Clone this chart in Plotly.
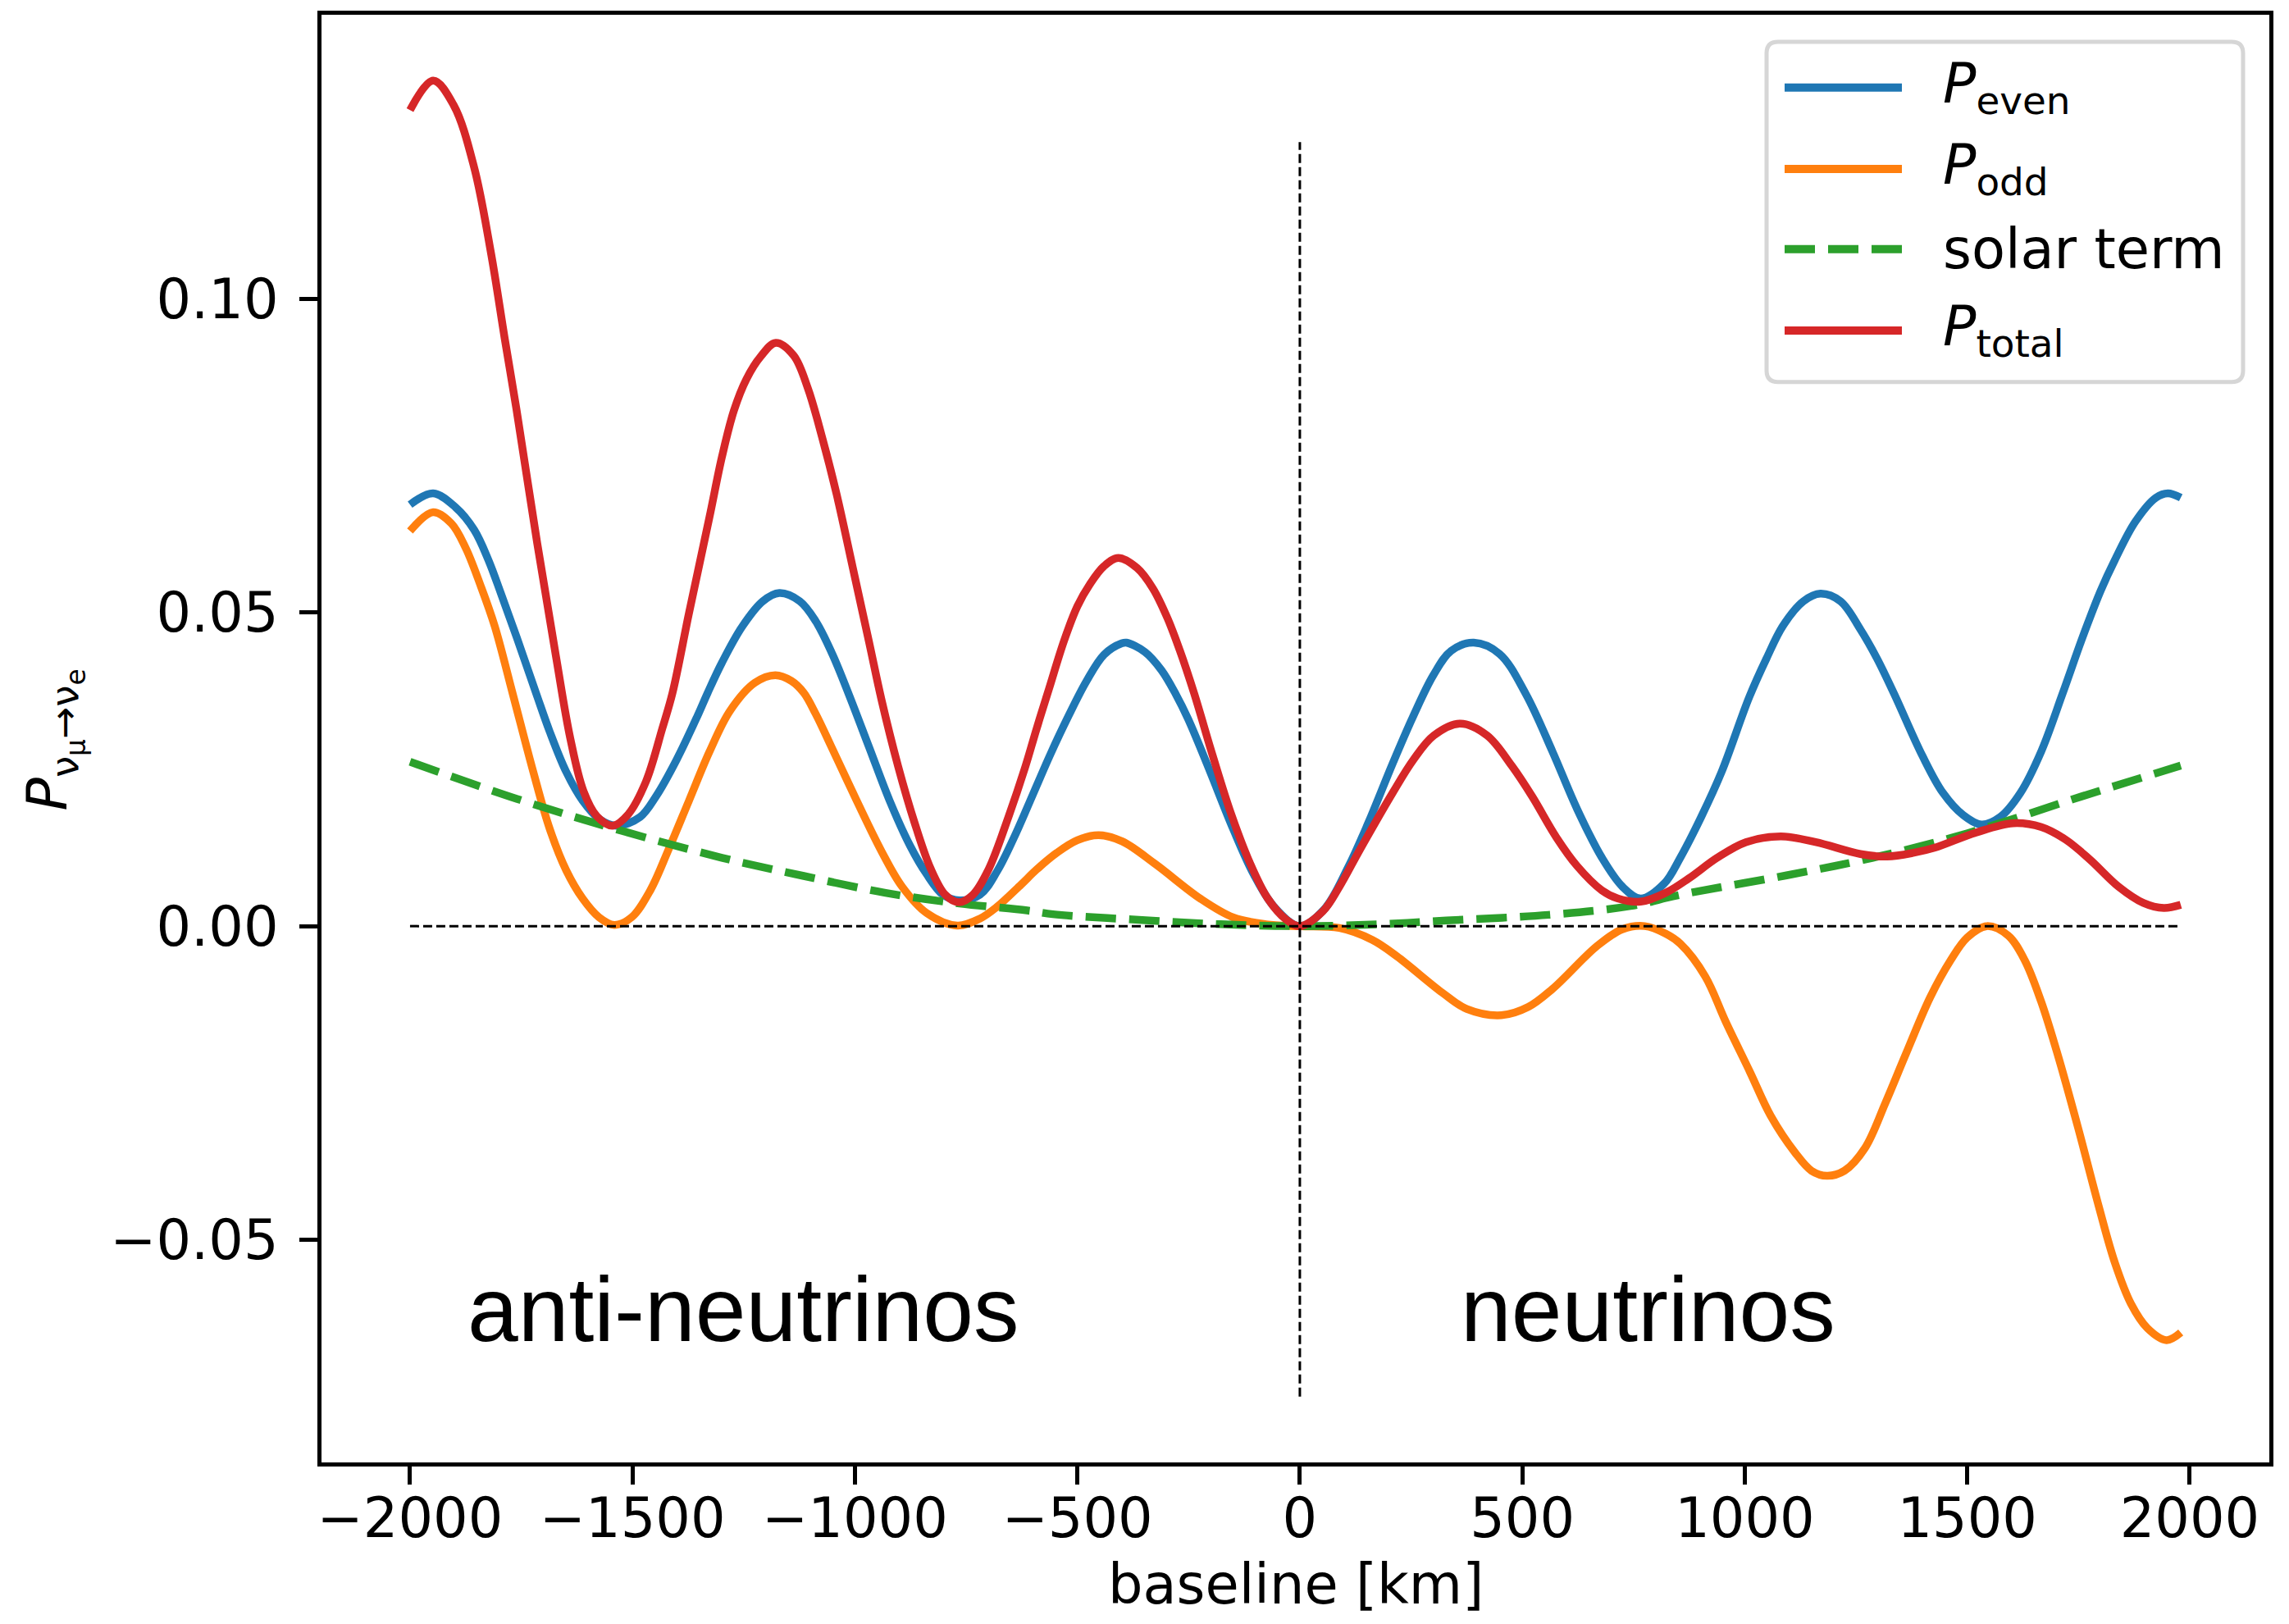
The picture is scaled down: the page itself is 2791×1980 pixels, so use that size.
import plotly.graph_objects as go

# ---------------- data ----------------
even_x = [-2000, -1948, -1898, -1856, -1824, -1796, -1760, -1716, -1686, -1649, -1612, -1575, -1536,
          -1483, -1447, -1401, -1354, -1331, -1299, -1253, -1207, -1170, -1124, -1088, -1051, -1014,
          -968, -922, -876, -839, -802, -765, -719, -680, -640, -600, -560, -520, -480, -440, -400,
          -390, -348, -311, -279, -251, -205, -150, -104, -58, 0,
          55, 108, 154, 209, 255, 300, 340, 391, 449, 508, 568, 623, 679, 725, 766, 819, 855, 902,
          948, 1010, 1049, 1086, 1132, 1170, 1215, 1260, 1297, 1336, 1399, 1445, 1491, 1532, 1574,
          1620, 1666, 1714, 1760, 1800, 1832, 1878, 1924, 1951, 1980]
even_y = [0.0672, 0.0690, 0.0668, 0.0632, 0.0584, 0.0531, 0.0460, 0.0370, 0.0310, 0.0246, 0.0200,
          0.0171, 0.0160, 0.0174, 0.0207, 0.0265, 0.0335, 0.0372, 0.0420, 0.0478, 0.0518, 0.0531,
          0.0518, 0.0486, 0.0434, 0.0370, 0.0285, 0.0200, 0.0128, 0.0083, 0.0050, 0.0041, 0.0050,
          0.0088, 0.0145, 0.0210, 0.0275, 0.0335, 0.0390, 0.0433, 0.0451, 0.0452, 0.0437, 0.0408,
          0.0370, 0.0330, 0.0252, 0.0155, 0.0083, 0.0031, 0.0,
          0.0027, 0.0093, 0.0165, 0.0260, 0.0335, 0.0400, 0.0439, 0.0452, 0.0434, 0.0370, 0.0278,
          0.0187, 0.0109, 0.0063, 0.0044, 0.0068, 0.0109, 0.0174, 0.0246, 0.0365, 0.0427, 0.0479,
          0.0518, 0.0530, 0.0518, 0.0473, 0.0427, 0.0370, 0.0272, 0.0213, 0.0177, 0.0162, 0.0174,
          0.0213, 0.0278, 0.0370, 0.0462, 0.0535, 0.0584, 0.0645, 0.0683, 0.0690, 0.0683]

odd_x = [-2000, -1948, -1907, -1875, -1842, -1810, -1769, -1723, -1686, -1649, -1612, -1575, -1541,
         -1502, -1460, -1419, -1373, -1327, -1281, -1225, -1179, -1143, -1115, -1088, -1051, -996,
         -940, -894, -839, -770, -719, -682, -627, -592, -546, -500, -452, -399, -325, -224, -150,
         -76, 0,
         89, 163, 218, 320, 375, 453, 513, 568, 669, 725, 775, 822, 855, 911, 957, 1012, 1058, 1113,
         1150, 1185, 1224, 1270, 1316, 1362, 1417, 1463, 1500, 1544, 1592, 1629, 1666, 1703, 1749,
         1795, 1832, 1868, 1905, 1948, 1980]
odd_y = [0.0630, 0.0660, 0.0642, 0.0603, 0.0544, 0.0479, 0.0370, 0.0246, 0.0155, 0.0089, 0.0044,
         0.0014, 0.0002, 0.0014, 0.0057, 0.0122, 0.0200, 0.0278, 0.0343, 0.0388, 0.0400, 0.0391,
         0.0372, 0.0338, 0.0283, 0.0200, 0.0119, 0.0063, 0.0021, 0.0001, 0.0012, 0.0030, 0.0066,
         0.0090, 0.0117, 0.0137, 0.0145, 0.0135, 0.0099, 0.0044, 0.0014, 0.0003, 0.0,
         -0.0003, -0.0022, -0.0048, -0.0106, -0.0132, -0.0142, -0.0129, -0.0100, -0.0031, -0.0005,
         0.0, -0.0012, -0.0028, -0.0080, -0.0152, -0.0233, -0.0302, -0.0361, -0.0390, -0.0398,
         -0.0390, -0.0354, -0.0282, -0.0204, -0.0113, -0.0054, -0.0018, 0.0, -0.0015, -0.0054,
         -0.0120, -0.0204, -0.0321, -0.0445, -0.0537, -0.0602, -0.0641, -0.0660, -0.0648]

solar_x = [-2000, -1760, -1539, -1299, -1115, -931, -765, -613, -555, -362, -178, 0,
           178, 329, 559, 743, 855, 1094, 1288, 1500, 1758, 1980]
solar_y = [0.0262, 0.0203, 0.0155, 0.0109, 0.0080, 0.0053, 0.0036, 0.0025, 0.0019, 0.0010, 0.0003,
           0.0, 0.0003, 0.0009, 0.0018, 0.0032, 0.0050, 0.0081, 0.0109, 0.0148, 0.0207, 0.0256]

total_x = [-2000, -1948, -1902, -1856, -1818, -1787, -1761, -1714, -1672, -1640, -1610, -1580,
           -1545, -1510, -1470, -1433, -1410, -1373, -1327, -1299, -1272, -1244, -1212, -1178,
           -1138, -1106, -1074, -1041, -1005, -968, -940, -903, -866, -830, -797, -767, -735, -700,
           -655, -618, -592, -564, -530, -500, -472, -440, -408, -366, -330, -297, -270, -238,
           -196, -155, -113, -72, -30, 0,
           52, 89, 135, 209, 255, 301, 361, 421, 476, 522, 577, 623, 679, 715, 766, 822, 874, 938,
           1003, 1081, 1159, 1260, 1320, 1380, 1427, 1519, 1603, 1666, 1721, 1776, 1840, 1896,
           1942, 1980]
total_y = [0.1301, 0.1348, 0.1309, 0.1210, 0.1073, 0.0936, 0.0825, 0.0610, 0.0430, 0.0300, 0.0215,
           0.0175, 0.0160, 0.0178, 0.0230, 0.0315, 0.0372, 0.0499, 0.0652, 0.0748, 0.0822, 0.0872,
           0.0908, 0.0930, 0.0910, 0.0858, 0.0780, 0.0688, 0.0572, 0.0452, 0.0360, 0.0255, 0.0165,
           0.0092, 0.0050, 0.0038, 0.0050, 0.0090, 0.0174, 0.0252, 0.0314, 0.0378, 0.0455, 0.0510,
           0.0545, 0.0574, 0.0587, 0.0571, 0.0538, 0.0490, 0.0440, 0.0372, 0.0272, 0.0180, 0.0102,
           0.0044, 0.0010, 0.0,
           0.0024, 0.0063, 0.0122, 0.0213, 0.0265, 0.0304, 0.0323, 0.0304, 0.0256, 0.0207, 0.0141,
           0.0096, 0.0057, 0.0044, 0.0039, 0.0053, 0.0076, 0.0109, 0.0134, 0.0143, 0.0134, 0.0115,
           0.0111, 0.0117, 0.0125, 0.0149, 0.0164, 0.0158, 0.0138, 0.0106, 0.0063, 0.0037, 0.0029,
           0.0034]

hline_x = [-2000, 1980]
hline_y = [0.0, 0.0]
vline_x = [0, 0]
vline_y = [-0.075, 0.125]

x_ticks = [-2000, -1500, -1000, -500, 0, 500, 1000, 1500, 2000]
x_ticklabels = ["\u22122000", "\u22121500", "\u22121000", "\u2212500", "0", "500", "1000", "1500", "2000"]
y_ticks = [-0.05, 0.0, 0.05, 0.10]
y_ticklabels = ["\u22120.05", "0.00", "0.05", "0.10"]

series_names = ["<i>P</i><sub>even</sub>", "<i>P</i><sub>odd</sub>", "solar term", "<i>P</i><sub>total</sub>"]
colors = ["#1f77b4", "#ff7f0e", "#2ca02c", "#d62728"]

# ---------------- layout geometry ----------------
# the page body has an 8px margin, so everything is placed in reference pixels minus OFF
OFF = 8
W, H = 2791 - 2 * OFF, 1980 - 2 * OFF
RPL, RPR, RPT, RPB = 392, 2767, 13, 1783          # plot area in reference pixels
PL, PR, PT, PB = RPL - OFF, RPR - OFF, RPT - OFF, RPB - OFF
FONT = "DejaVu Sans"
FS = 67
LW = 9.5


def px_x(p):
    return (p - OFF - PL) / (PR - PL)


def px_y(p):
    return (PB - (p - OFF)) / (PB - PT)


fig = go.Figure()

curves = [(even_x, even_y, None), (odd_x, odd_y, None), (solar_x, solar_y, "37px,16px"),
          (total_x, total_y, None)]
for (xs, ys, dash), name, col in zip(curves, series_names, colors):
    fig.add_trace(go.Scatter(x=xs, y=ys, mode="lines", name=name, showlegend=False,
                             line=dict(color=col, width=LW, shape="spline", smoothing=1.0,
                                       dash=dash if dash else "solid")))

for xs, ys in [(hline_x, hline_y), (vline_x, vline_y)]:
    fig.add_trace(go.Scatter(x=xs, y=ys, mode="lines", showlegend=False,
                             line=dict(color="black", width=3, dash="11px,5px")))

axis_common = dict(showline=True, linecolor="black", linewidth=5, mirror=True,
                   ticks="outside", ticklen=22, tickwidth=5, tickcolor="black",
                   showgrid=False, zeroline=False,
                   tickfont=dict(family=FONT, size=FS, color="black"))

fig.update_xaxes(range=[-2199, 2179], tickmode="array", tickvals=x_ticks, ticktext=x_ticklabels,
                 ticklabelstandoff=-16, **axis_common)
fig.update_yaxes(range=[-0.0855, 0.1453], tickmode="array", tickvals=y_ticks, ticktext=y_ticklabels,
                 ticklabelstandoff=12, **axis_common)

annotations = []
# axis titles
annotations.append(dict(text="baseline [km]", x=px_x(1580), y=px_y(1932), xref="paper", yref="paper",
                        xanchor="center", yanchor="middle", showarrow=False,
                        font=dict(family=FONT, size=FS, color="black")))
annotations.append(dict(text="<i>P</i><sub>\u03bd<sub>\u03bc</sub>\u2192\u03bd<sub>e</sub></sub>",
                        x=px_x(66), y=px_y(900), xref="paper", yref="paper", textangle=-90,
                        xanchor="center", yanchor="middle", showarrow=False,
                        font=dict(family=FONT, size=FS, color="black")))
# region labels
for txt, xc in [("anti-neutrinos", 906), ("neutrinos", 2010)]:
    annotations.append(dict(text=txt, x=px_x(xc), y=px_y(1596), xref="paper", yref="paper",
                            xanchor="center", yanchor="middle", showarrow=False,
                            font=dict(family="Liberation Sans", size=111, color="black")))

# legend (drawn manually to match the long handles and rounded frame)
shapes = []
lx0, lx1, ly0, ly1, rr = 2154, 2735, 46, 462, 14
rx = rr / (PR - PL)
ry = rr / (PB - PT)
X0, X1, Y0, Y1 = px_x(lx0), px_x(lx1), px_y(ly0), px_y(ly1)
path = (f"M {X0 + rx},{Y0} L {X1 - rx},{Y0} Q {X1},{Y0} {X1},{Y0 - ry} "
        f"L {X1},{Y1 + ry} Q {X1},{Y1} {X1 - rx},{Y1} L {X0 + rx},{Y1} Q {X0},{Y1} {X0},{Y1 + ry} "
        f"L {X0},{Y0 - ry} Q {X0},{Y0} {X0 + rx},{Y0} Z")
shapes.append(dict(type="path", path=path, xref="paper", yref="paper", layer="above",
                   line=dict(color="#d6d6d6", width=5), fillcolor="rgba(255,255,255,0.8)"))
entry_y = [102, 201.5, 299.5, 399]
dashes = ["solid", "solid", "37px,16px", "solid"]
for name, col, ey, dsh in zip(series_names, colors, entry_y, dashes):
    shapes.append(dict(type="line", xref="paper", yref="paper", layer="above",
                       x0=px_x(2176), x1=px_x(2319), y0=px_y(ey), y1=px_y(ey),
                       line=dict(color=col, width=10, dash=dsh)))
    annotations.append(dict(text=name, x=px_x(2367), y=px_y(ey), xref="paper", yref="paper",
                            xanchor="left", yanchor="middle", showarrow=False,
                            font=dict(family=FONT, size=FS, color="black")))

fig.update_layout(width=W, height=H, autosize=False,
                  margin=dict(l=PL, r=W - PR, t=PT, b=H - PB, pad=0),
                  paper_bgcolor="white", plot_bgcolor="white",
                  showlegend=False, annotations=annotations, shapes=shapes)

fig.write_html("out.html")
